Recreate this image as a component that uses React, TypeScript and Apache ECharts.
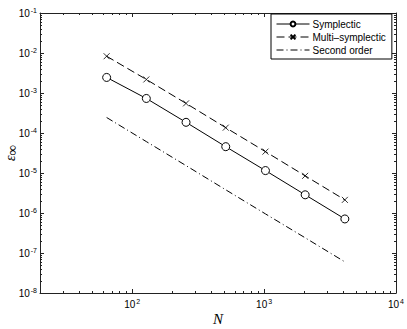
import React, { useEffect, useRef } from "react";
import * as echarts from "echarts";

const N = [64, 128, 256, 512, 1024, 2048, 4096];
const symplectic = [2.45e-3, 7.3e-4, 1.85e-4, 4.55e-5, 1.15e-5, 2.85e-6, 7.1e-7];
const multiSymplectic = [8.3e-3, 2.18e-3, 5.5e-4, 1.36e-4, 3.42e-5, 8.5e-6, 2.13e-6];
const secondOrder = [2.44e-4, 6.1e-5, 1.53e-5, 3.8e-6, 9.5e-7, 2.4e-7, 6.0e-8];

// tick values (decades), and axis limits
const xMajorTicks = [100, 1000, 10000];
const yMajorTicks = [1e-8, 1e-7, 1e-6, 1e-5, 1e-4, 1e-3, 1e-2, 1e-1];
const X_MIN = 20;
const X_MAX = 10000;
const Y_MIN = 1e-8;
const Y_MAX = 1e-1;

const lg = Math.log10;

const minorOf = (majors: number[], lo: number, hi: number) => {
  const out: number[] = [];
  const decades = [majors[0] / 10, ...majors];
  for (const d of decades) {
    for (let k = 2; k <= 9; k++) {
      const v = d * k;
      if (v > lo * 0.999 && v < hi * 1.001) out.push(lg(v));
    }
  }
  return out;
};

const xMinorTicks = minorOf(xMajorTicks, X_MIN, X_MAX);
const yMinorTicks = minorOf(yMajorTicks, Y_MIN, Y_MAX);
const xMajor = xMajorTicks.map(lg);
const yMajor = yMajorTicks.map(lg);

const FONT = "Liberation Sans";
const AXIS_COLOR = "#222";

const powLabel = (v: number) => `{b|10}{s|${Math.round(v)}}`;

const rich = {
  b: { fontSize: 10, fontFamily: FONT, color: "#000", lineHeight: 12 },
  s: { fontSize: 7, fontFamily: FONT, color: "#000", verticalAlign: "top", lineHeight: 7, padding: [0, 0, 0, 1] },
};

export default function App() {
  const ref = useRef<HTMLDivElement>(null);
  useEffect(() => {
    document.body.style.margin = "0";
    const chart = echarts.init(ref.current!, undefined, { renderer: "svg" });
    const grid = { left: 40, right: 11, top: 13, bottom: 36, outerBoundsMode: "none", containLabel: false };
    const hiddenBase = {
      axisLabel: { show: false },
      splitLine: { show: false },
    };
    const xCommon = { type: "value", min: lg(X_MIN), max: lg(X_MAX) };
    const yCommon = { type: "value", min: lg(Y_MIN), max: lg(Y_MAX) };
    const toPts = (vals: number[]) => N.map((n, i) => [lg(n), lg(vals[i])]);
    const option: any = {
      animation: false,
      backgroundColor: "#fff",
      grid,
      legend: {
        orient: "vertical",
        left: 271,
        top: 14,
        width: 120,
        padding: [4, 6, 3, 5],
        borderColor: "#000",
        borderWidth: 1,
        backgroundColor: "#fff",
        itemWidth: 33,
        itemHeight: 6,
        itemGap: 1,
        lineStyle: { width: 1 },
        textStyle: { fontFamily: FONT, fontSize: 10, color: "#000", lineHeight: 12, padding: [0, 0, 0, -2] },
        data: [
          { name: "Symplectic" },
          { name: "Multi\u2013symplectic" },
          { name: "Second order", itemStyle: { opacity: 0 } },
        ],
      },
      xAxis: [
        {
          ...xCommon,
          position: "bottom",
          name: "N",
          nameLocation: "middle",
          nameGap: 18,
          nameMoveOverlap: false,
          nameTextStyle: { fontFamily: "Liberation Serif", fontStyle: "italic", fontSize: 15, color: "#000" },
          axisLine: { show: true, lineStyle: { color: AXIS_COLOR, width: 1 } },
          axisTick: { show: true, inside: true, length: 4, customValues: xMajor, lineStyle: { color: AXIS_COLOR } },
          axisLabel: { show: true, margin: 5, customValues: xMajor, formatter: powLabel, rich },
          splitLine: { show: false },
        },
        {
          ...xCommon,
          ...hiddenBase,
          position: "bottom",
          axisLine: { show: false },
          axisTick: { show: true, inside: true, length: 2, customValues: xMinorTicks, lineStyle: { color: AXIS_COLOR } },
        },
        {
          ...xCommon,
          ...hiddenBase,
          position: "top",
          axisLine: { show: true, lineStyle: { color: AXIS_COLOR, width: 1 } },
          axisTick: { show: true, inside: true, length: 4, customValues: xMajor, lineStyle: { color: AXIS_COLOR } },
        },
        {
          ...xCommon,
          ...hiddenBase,
          position: "top",
          axisLine: { show: false },
          axisTick: { show: true, inside: true, length: 2, customValues: xMinorTicks, lineStyle: { color: AXIS_COLOR } },
        },
      ],
      yAxis: [
        {
          ...yCommon,
          position: "left",
          name: "{e|\u03b5}{i|\u221e}",
          nameLocation: "middle",
          nameGap: 21,
          nameMoveOverlap: false,
          nameRotate: 90,
          nameTextStyle: {
            rich: {
              e: { fontFamily: "Liberation Serif", fontStyle: "italic", fontSize: 14, color: "#000", verticalAlign: "top", lineHeight: 16 },
              i: { fontFamily: "Liberation Serif", fontSize: 15, color: "#000", verticalAlign: "bottom", lineHeight: 16, padding: [3, 0, 0, 0] },
            },
          },
          axisLine: { show: true, lineStyle: { color: AXIS_COLOR, width: 1 } },
          axisTick: { show: true, inside: true, length: 4, customValues: yMajor, lineStyle: { color: AXIS_COLOR } },
          axisLabel: { show: true, margin: 3, customValues: yMajor, formatter: powLabel, rich },
          splitLine: { show: false },
        },
        {
          ...yCommon,
          ...hiddenBase,
          position: "left",
          axisLine: { show: false },
          axisTick: { show: true, inside: true, length: 2, customValues: yMinorTicks, lineStyle: { color: AXIS_COLOR } },
        },
        {
          ...yCommon,
          ...hiddenBase,
          position: "right",
          axisLine: { show: true, lineStyle: { color: AXIS_COLOR, width: 1 } },
          axisTick: { show: true, inside: true, length: 4, customValues: yMajor, lineStyle: { color: AXIS_COLOR } },
        },
        {
          ...yCommon,
          ...hiddenBase,
          position: "right",
          axisLine: { show: false },
          axisTick: { show: true, inside: true, length: 2, customValues: yMinorTicks, lineStyle: { color: AXIS_COLOR } },
        },
      ],
      series: [
        {
          name: "Symplectic",
          type: "line",
          xAxisIndex: 0,
          yAxisIndex: 0,
          data: toPts(symplectic),
          symbol: "circle",
          symbolSize: 8,
          lineStyle: { color: "#000", width: 1, type: "solid" },
          itemStyle: { color: "#fff", borderColor: "#000", borderWidth: 1 },
          z: 3,
        },
        {
          name: "Multi\u2013symplectic",
          type: "line",
          xAxisIndex: 0,
          yAxisIndex: 0,
          data: toPts(multiSymplectic),
          symbol: "path://M0,0L10,10M10,0L0,10",
          symbolSize: 6,
          lineStyle: { color: "#000", width: 1, type: [8, 4] },
          itemStyle: { color: "none", borderColor: "#000", borderWidth: 0.8 },
          z: 3,
        },
        {
          name: "Second order",
          type: "line",
          xAxisIndex: 0,
          yAxisIndex: 0,
          data: toPts(secondOrder),
          symbol: "circle",
          showSymbol: false,
          lineStyle: { color: "#000", width: 1, type: [7, 3, 1, 3] },
          itemStyle: { color: "#000" },
          z: 3,
        },
      ],
    };
    chart.setOption(option);
    return () => chart.dispose();
  }, []);
  return <div ref={ref} style={{ width: 407, height: 329 }} />;
}
